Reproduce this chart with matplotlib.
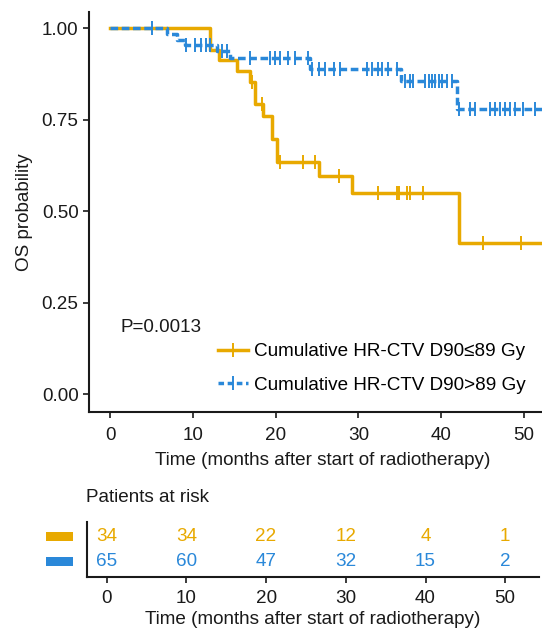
import numpy as np
import matplotlib
matplotlib.use("Agg")
import matplotlib.pyplot as plt
from matplotlib.lines import Line2D
from matplotlib.patches import Rectangle

plt.rcParams["font.family"] = ["Liberation Sans", "DejaVu Sans"]
plt.rcParams["lines.scale_dashes"] = False

ORANGE = "#E8A900"
BLUE = "#2A88D9"
INK = "#1a1a1a"

# Kaplan-Meier steps (months, survival)
low_times = [0, 12.0, 13.1, 15.3, 16.9, 17.5, 18.5, 19.5, 20.1, 25.2, 29.2, 42.1]
low_surv = [1.0, 0.941, 0.912, 0.882, 0.853, 0.792, 0.760, 0.697, 0.634, 0.597, 0.551, 0.414]
low_end = 54.0
low_censor = [17.1, 18.3, 20.5, 23.3, 24.8, 27.7, 32.3, 34.6, 34.9, 35.9, 36.2, 37.8, 45.0, 49.7]

high_times = [0, 6.8, 8.0, 9.0, 12.9, 14.5, 24.1, 35.2, 41.9]
high_surv = [1.0, 0.985, 0.969, 0.954, 0.937, 0.918, 0.889, 0.857, 0.779]
high_end = 54.0
high_censor = [5.0, 9.2, 10.2, 11.0, 11.6, 12.0, 13.5, 14.1, 16.9, 19.3, 19.9, 20.5, 21.5,
               22.3, 23.9, 24.4, 25.2, 26.0, 27.0, 27.8, 31.0, 31.6, 32.4, 32.8, 33.6,
               34.6, 35.6, 36.2, 36.6, 38.1, 38.5, 38.9, 39.3, 39.7, 40.1, 40.7, 41.3,
               42.1, 43.5, 44.1, 45.9, 46.5, 47.1, 47.7, 48.3, 48.9, 49.9, 51.4]

risk_times = [0, 10, 20, 30, 40, 50]
risk_low = [34, 34, 22, 12, 4, 1]
risk_high = [65, 60, 47, 32, 15, 2]

labels = ["Cumulative HR-CTV D90\u226489 Gy", "Cumulative HR-CTV D90>89 Gy"]
p_text = "P=0.0013"
xlabel = "Time (months after start of radiotherapy)"

FS = 13.6
W, H = 542, 628
fig = plt.figure(figsize=(W / 100, H / 100), dpi=100)


def frac(x0, y0, x1, y1):
    # pixel box (top-left origin) -> figure fraction rect
    return [x0 / W, 1 - y1 / H, (x1 - x0) / W, (y1 - y0) / H]


def style(ax, pad=3):
    for s in ("top", "right"):
        ax.spines[s].set_visible(False)
    for s in ("left", "bottom"):
        ax.spines[s].set_linewidth(1.5)
        ax.spines[s].set_color(INK)
    ax.tick_params(direction="out", length=4.5, width=1.2, color=INK,
                   labelsize=FS, labelcolor=INK, pad=pad)


def surv_at(times, surv, t):
    i = np.searchsorted(times, t, side="right") - 1
    return np.asarray(surv)[i]


ax = fig.add_axes(frac(89, 11.7, 557, 412))
style(ax)
ax.tick_params(axis="x", pad=6)
curves = [(low_times, low_surv, low_end, low_censor, ORANGE, "-"),
          (high_times, high_surv, high_end, high_censor, BLUE, "--")]
handles = []
for k, (tt, ss, tend, cens, col, ls) in enumerate(curves):
    x = list(tt) + [tend]
    y = list(ss) + [ss[-1]]
    line, = ax.step(x, y, where="post", color=col, lw=2.5, zorder=2 + k)
    if ls == "--":
        line.set_dashes((5.5, 2.6))
    ax.plot(cens, surv_at(tt, ss, cens), ls="none", marker="|", ms=9.5, mew=1.4,
            color=col, zorder=2 + k)
    h = Line2D([], [], color=col, lw=2.5, marker="|", ms=9.5, mew=1.4)
    if ls == "--":
        h.set_dashes((4, 2.6))
    handles.append(h)

ax.set_xlim(-2.58, 54.0)
ax.set_ylim(-0.048, 1.045)
ax.set_xticks(risk_times)
ax.set_yticks([0, 0.25, 0.5, 0.75, 1.0])
ax.set_yticklabels(["0.00", "0.25", "0.50", "0.75", "1.00"])
ax.set_xlabel(xlabel, fontsize=FS, color=INK, labelpad=6)
ax.set_ylabel("OS probability", fontsize=FS, color=INK, labelpad=6)
ax.text(1.2, 0.184, p_text, fontsize=FS, color=INK, ha="left", va="center")
ax.legend(handles, labels, loc="center left", bbox_to_anchor=(0.2756, 0.109),
          frameon=False, fontsize=FS, handlelength=1.6, handletextpad=0.3,
          labelspacing=0.84, borderpad=0, borderaxespad=0)

# risk table
rx = fig.add_axes(frac(87, 521.7, 539, 576.7))
style(rx, pad=5)
rx.set_xlim(-2.47, 54.24)
rx.set_ylim(-0.6, 1.6)
rx.set_xticks(risk_times)
rx.set_yticks([])
for t, a, b in zip(risk_times, risk_low, risk_high):
    rx.text(t, 1, str(a), color=ORANGE, fontsize=FS, ha="center", va="center")
    rx.text(t, 0, str(b), color=BLUE, fontsize=FS, ha="center", va="center")
rx.set_xlabel(xlabel, fontsize=FS, color=INK, labelpad=3)

fig.text(86 / W, 1 - 498 / H, "Patients at risk", fontsize=FS, color=INK,
         ha="left", va="center")
for col, yc in ((ORANGE, 536.7), (BLUE, 561.7)):
    x0, y0, w, h = frac(45.7, yc - 4.5, 72.7, yc + 4.5)
    fig.add_artist(Rectangle((x0, y0), w, h, transform=fig.transFigure,
                             facecolor=col, edgecolor="none"))

fig.savefig("out.png", dpi=100)
